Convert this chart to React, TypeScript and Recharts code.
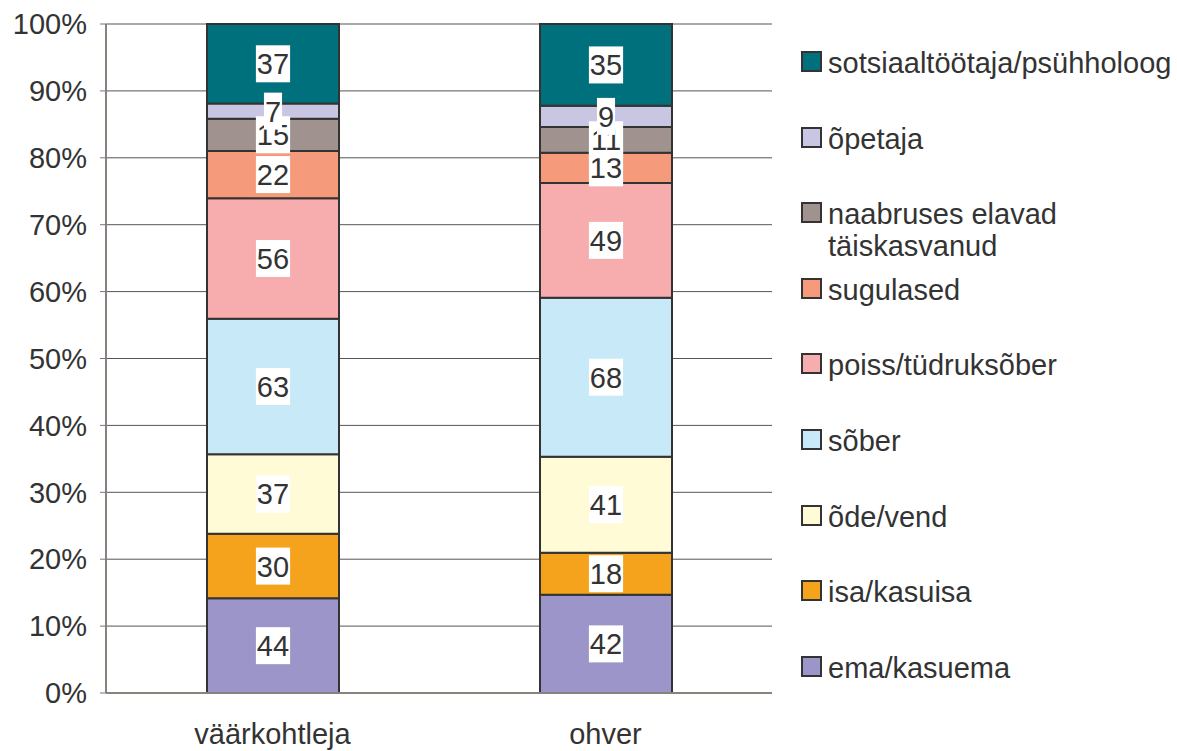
import React from 'react';
import { BarChart, Bar, XAxis, YAxis, CartesianGrid, Legend, LabelList } from 'recharts';

const categories = ['väärkohtleja', 'ohver'];
const seriesNames = [
  'ema/kasuema',
  'isa/kasuisa',
  'õde/vend',
  'sõber',
  'poiss/tüdruksõber',
  'sugulased',
  'naabruses elavad täiskasvanud',
  'õpetaja',
  'sotsiaaltöötaja/psühholoog',
];
const legendLines = [
  ['ema/kasuema'],
  ['isa/kasuisa'],
  ['õde/vend'],
  ['sõber'],
  ['poiss/tüdruksõber'],
  ['sugulased'],
  ['naabruses elavad', 'täiskasvanud'],
  ['õpetaja'],
  ['sotsiaaltöötaja/psühholoog'],
];
const valuesVaarkohtleja = [44, 30, 37, 63, 56, 22, 15, 7, 37];
const valuesOhver = [42, 18, 41, 68, 49, 13, 11, 9, 35];
const colors = ['#9B95C9', '#F5A31D', '#FFFBD6', '#C7E9F8', '#F7ACAE', '#F59A7B', '#A0938F', '#C9C6E3', '#00707C'];
const yTicks = [0, 0.1, 0.2, 0.3, 0.4, 0.5, 0.6, 0.7, 0.8, 0.9, 1];

const seriesValues = [valuesVaarkohtleja, valuesOhver];
const data = categories.map((name, ci) => {
  const row: Record<string, any> = { name };
  seriesNames.forEach((s, si) => {
    row['s' + si] = seriesValues[ci][si];
  });
  return row;
});

const FONT = '"Liberation Sans", Arial, Helvetica, sans-serif';
const FS = 29;

const ValueLabel = (props: any) => {
  const { x, y, width, height, value } = props;
  const cx = Number(x) + Number(width) / 2;
  const cy = Number(y) + Number(height) / 2;
  const txt = String(value);
  const w = txt.length * 16.1 + 2;
  const h = 37;
  return (
    <g>
      <rect x={cx - w / 2} y={cy - h / 2} width={w} height={h} fill="#ffffff" />
      <text x={cx} y={cy} dy="0.36em" textAnchor="middle" fontSize={FS} fill="#333333" fontFamily={FONT}>
        {txt}
      </text>
    </g>
  );
};

const LegendContent = () => {
  const items = seriesNames.map((s, i) => i).reverse();
  return (
    <div style={{ fontFamily: FONT, fontSize: FS, color: '#333333' }}>
      {items.map((i) => (
        <div key={i} style={{ display: 'flex', alignItems: 'flex-start', height: 75.6 }}>
          <div
            style={{
              width: 17,
              height: 17,
              background: colors[i],
              border: '2px solid #333333',
              marginTop: 4,
              marginRight: 6,
              flexShrink: 0,
            }}
          />
          <div style={{ lineHeight: '32px', whiteSpace: 'nowrap' }}>
            {legendLines[i].map((l, k) => (
              <div key={k}>{l}</div>
            ))}
          </div>
        </div>
      ))}
    </div>
  );
};

export default function App() {
  return (
    <div style={{ position: 'absolute', left: 0, top: 0, width: 1177, height: 751, background: '#fff' }}>
      <BarChart
        width={1177}
        height={751}
        data={data}
        stackOffset="expand"
        margin={{ top: 24, right: 405, bottom: 0, left: 0 }}
      >
        <CartesianGrid vertical={false} stroke="#555555" strokeWidth={1} />
        <XAxis
          xAxisId="grid"
          type="number"
          domain={[0, 2]}
          ticks={[0, 1, 2]}
          height={1}
          tick={false}
          axisLine={false}
          tickLine={{ stroke: '#777777', strokeWidth: 1.5 }}
          tickSize={7}
        />
        <XAxis
          xAxisId="cat"
          dataKey="name"
          height={57}
          tickLine={false}
          axisLine={{ stroke: '#8a807c', strokeWidth: 2 }}
          tickMargin={24}
          tick={{ fontSize: FS, fill: '#333333', fontFamily: FONT }}
          interval={0}
        />
        <YAxis
          width={106}
          domain={[0, 1]}
          ticks={yTicks}
          tickFormatter={(v: number) => Math.round(v * 100) + '%'}
          tick={{ fontSize: FS, fill: '#333333', fontFamily: FONT }}
          tickSize={6}
          tickMargin={13}
          tickLine={{ stroke: '#777777' }}
          axisLine={{ stroke: '#8a807c', strokeWidth: 2 }}
          interval={0}
        />
        <Legend
          layout="horizontal"
          align="center"
          verticalAlign="middle"
          content={<LegendContent />}
          wrapperStyle={{ left: 801, top: 47, width: 376, height: 700 }}
        />
        {seriesNames.map((s, i) => (
          <Bar
            key={s}
            xAxisId="cat"
            dataKey={'s' + i}
            name={s}
            stackId="a"
            fill={colors[i]}
            stroke="#333333"
            strokeWidth={2}
            barSize={132}
            isAnimationActive={false}
          >
            <LabelList dataKey={'s' + i} content={<ValueLabel />} />
          </Bar>
        ))}
      </BarChart>
    </div>
  );
}
